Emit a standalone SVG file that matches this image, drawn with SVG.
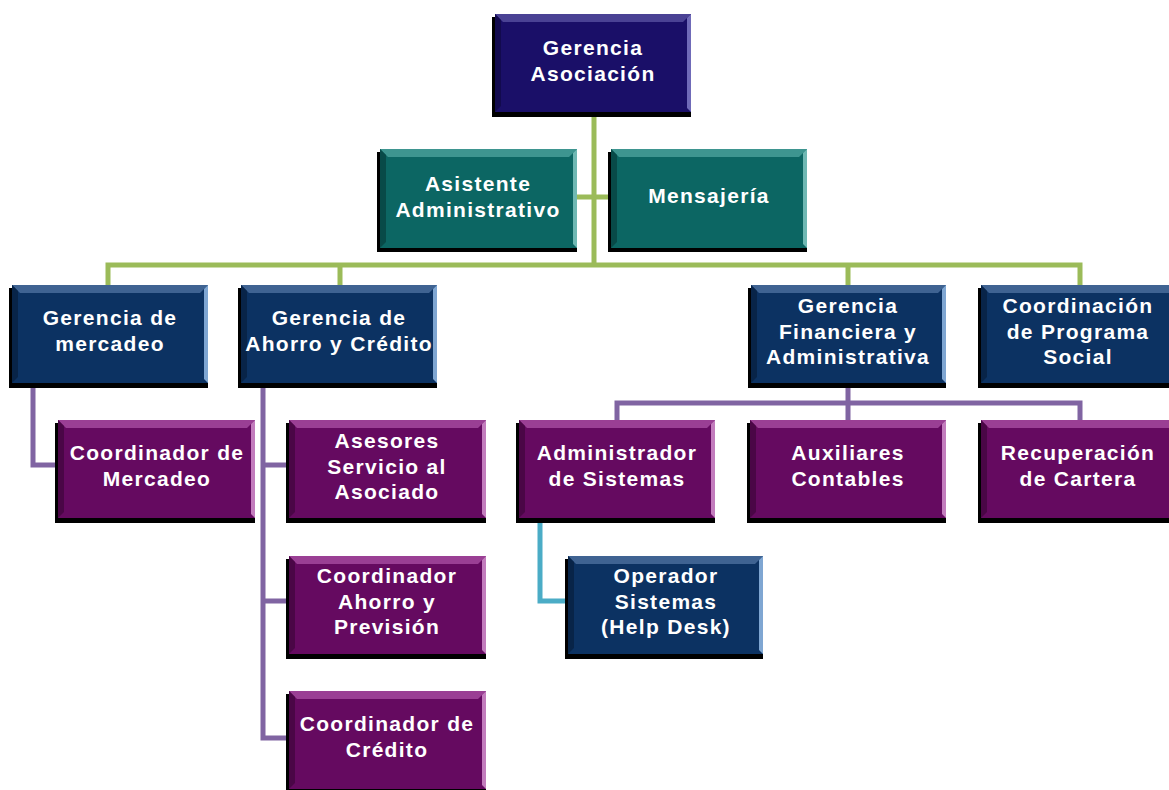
<svg xmlns="http://www.w3.org/2000/svg" width="1169" height="790" viewBox="0 0 1169 790">
<defs>
<style>
.sh{fill:#000;}
.navy{fill:#1a0f68;}
.teal{fill:#0c6663;}
.blue{fill:#0c3262;}
.purp{fill:#650a60;}
.tnavy{fill:#4a4294;}
.tteal{fill:#3e9590;}
.tblue{fill:#3f6392;}
.tpurp{fill:#9a3f94;}
.rnavy{fill:#6f6ab8;}
.rteal{fill:#6fb8b3;}
.rblue{fill:#7fa6d2;}
.rpurp{fill:#c37cbd;}
.lnavy{fill:#120a4e;}
.lteal{fill:#084a48;}
.lblue{fill:#082448;}
.lpurp{fill:#4a0646;}
text{font-family:"Liberation Sans",Arial,sans-serif;font-weight:bold;font-size:21px;letter-spacing:1.3px;fill:#fff;text-anchor:middle;}
.g{stroke:#9bbb59;stroke-width:5;fill:none;}
.p{stroke:#8064a2;stroke-width:5;fill:none;}
.c{stroke:#4bacc6;stroke-width:5;fill:none;}
</style>
</defs>
<rect width="1169" height="790" fill="#fff"/>
<g id="connectors">
<path class="g" d="M594 112V265M577 197H611M108 285V265H1080V285M340 265V285M848 265V285"/>
<path class="p" d="M33 383V465H58"/>
<path class="p" d="M263 383V738H289M263 465H289M263 601H289"/>
<path class="p" d="M848 383V403M617 420V403H1080V420M848 403V420"/>
<path class="c" d="M540 518V601H568"/>
</g>
<g id="n1"><rect class="sh" x="492" y="17" width="199" height="100"/><rect class="navy" x="495" y="14" width="196" height="98"/><polygon class="tnavy" points="495,14 691,14 683,22 503,22"/><polygon class="rnavy" points="691,14 691,112 687,108 687,18"/><polygon class="lnavy" points="495,14 501,20 501,106 495,112"/><text x="593" y="55">Gerencia</text><text x="593" y="81">Asociación</text></g>
<g id="n2"><rect class="sh" x="377" y="152" width="200" height="100"/><rect class="teal" x="380" y="149" width="197" height="99"/><polygon class="tteal" points="380,149 577,149 569,157 388,157"/><polygon class="rteal" points="577,149 577,248 573,244 573,153"/><polygon class="lteal" points="380,149 386,155 386,242 380,248"/><text x="478" y="191">Asistente</text><text x="478" y="217">Administrativo</text></g>
<g id="n3"><rect class="sh" x="608" y="152" width="199" height="100"/><rect class="teal" x="611" y="149" width="196" height="99"/><polygon class="tteal" points="611,149 807,149 799,157 619,157"/><polygon class="rteal" points="807,149 807,248 803,244 803,153"/><polygon class="lteal" points="611,149 617,155 617,242 611,248"/><text x="709" y="203">Mensajería</text></g>
<g id="n4"><rect class="sh" x="9" y="288" width="199" height="100"/><rect class="blue" x="12" y="285" width="196" height="98"/><polygon class="tblue" points="12,285 208,285 200,293 20,293"/><polygon class="rblue" points="208,285 208,383 204,379 204,289"/><polygon class="lblue" points="12,285 18,291 18,377 12,383"/><text x="110" y="325">Gerencia de</text><text x="110" y="351">mercadeo</text></g>
<g id="n5"><rect class="sh" x="238" y="288" width="199" height="100"/><rect class="blue" x="241" y="285" width="196" height="98"/><polygon class="tblue" points="241,285 437,285 429,293 249,293"/><polygon class="rblue" points="437,285 437,383 433,379 433,289"/><polygon class="lblue" points="241,285 247,291 247,377 241,383"/><text x="339" y="325">Gerencia de</text><text x="339" y="351">Ahorro y Crédito</text></g>
<g id="n6"><rect class="sh" x="748" y="288" width="198" height="100"/><rect class="blue" x="751" y="285" width="195" height="98"/><polygon class="tblue" points="751,285 946,285 938,293 759,293"/><polygon class="rblue" points="946,285 946,383 942,379 942,289"/><polygon class="lblue" points="751,285 757,291 757,377 751,383"/><text x="848" y="313">Gerencia</text><text x="848" y="339">Financiera y</text><text x="848" y="364">Administrativa</text></g>
<g id="n7"><rect class="sh" x="978" y="288" width="199" height="100"/><rect class="blue" x="981" y="285" width="196" height="98"/><polygon class="tblue" points="981,285 1177,285 1169,293 989,293"/><polygon class="lblue" points="981,285 987,291 987,377 981,383"/><text x="1078" y="313">Coordinación</text><text x="1078" y="339">de Programa</text><text x="1078" y="364">Social</text></g>
<g id="n8"><rect class="sh" x="55" y="423" width="200" height="100"/><rect class="purp" x="58" y="420" width="197" height="98"/><polygon class="tpurp" points="58,420 255,420 247,428 66,428"/><polygon class="rpurp" points="255,420 255,518 251,514 251,424"/><polygon class="lpurp" points="58,420 64,426 64,512 58,518"/><text x="157" y="460">Coordinador de</text><text x="157" y="486">Mercadeo</text></g>
<g id="n9"><rect class="sh" x="286" y="423" width="200" height="100"/><rect class="purp" x="289" y="420" width="197" height="98"/><polygon class="tpurp" points="289,420 486,420 478,428 297,428"/><polygon class="rpurp" points="486,420 486,518 482,514 482,424"/><polygon class="lpurp" points="289,420 295,426 295,512 289,518"/><text x="387" y="448">Asesores</text><text x="387" y="474">Servicio al</text><text x="387" y="499">Asociado</text></g>
<g id="n10"><rect class="sh" x="286" y="559" width="200" height="100"/><rect class="purp" x="289" y="556" width="197" height="98"/><polygon class="tpurp" points="289,556 486,556 478,564 297,564"/><polygon class="rpurp" points="486,556 486,654 482,650 482,560"/><polygon class="lpurp" points="289,556 295,562 295,648 289,654"/><text x="387" y="583">Coordinador</text><text x="387" y="609">Ahorro y</text><text x="387" y="634">Previsión</text></g>
<g id="n11"><rect class="sh" x="286" y="694" width="200" height="100"/><rect class="purp" x="289" y="691" width="197" height="98"/><polygon class="tpurp" points="289,691 486,691 478,699 297,699"/><polygon class="rpurp" points="486,691 486,789 482,785 482,695"/><polygon class="lpurp" points="289,691 295,697 295,783 289,789"/><text x="387" y="731">Coordinador de</text><text x="387" y="757">Crédito</text></g>
<g id="n12"><rect class="sh" x="516" y="423" width="199" height="100"/><rect class="purp" x="519" y="420" width="196" height="98"/><polygon class="tpurp" points="519,420 715,420 707,428 527,428"/><polygon class="rpurp" points="715,420 715,518 711,514 711,424"/><polygon class="lpurp" points="519,420 525,426 525,512 519,518"/><text x="617" y="460">Administrador</text><text x="617" y="486">de Sistemas</text></g>
<g id="n13"><rect class="sh" x="747" y="423" width="199" height="100"/><rect class="purp" x="750" y="420" width="196" height="98"/><polygon class="tpurp" points="750,420 946,420 938,428 758,428"/><polygon class="rpurp" points="946,420 946,518 942,514 942,424"/><polygon class="lpurp" points="750,420 756,426 756,512 750,518"/><text x="848" y="460">Auxiliares</text><text x="848" y="486">Contables</text></g>
<g id="n14"><rect class="sh" x="978" y="423" width="199" height="100"/><rect class="purp" x="981" y="420" width="196" height="98"/><polygon class="tpurp" points="981,420 1177,420 1169,428 989,428"/><polygon class="lpurp" points="981,420 987,426 987,512 981,518"/><text x="1078" y="460">Recuperación</text><text x="1078" y="486">de Cartera</text></g>
<g id="n15"><rect class="sh" x="565" y="559" width="198" height="100"/><rect class="blue" x="568" y="556" width="195" height="98"/><polygon class="tblue" points="568,556 763,556 755,564 576,564"/><polygon class="rblue" points="763,556 763,654 759,650 759,560"/><polygon class="lblue" points="568,556 574,562 574,648 568,654"/><text x="666" y="583">Operador</text><text x="666" y="609">Sistemas</text><text x="666" y="634">(Help Desk)</text></g>
</svg>
